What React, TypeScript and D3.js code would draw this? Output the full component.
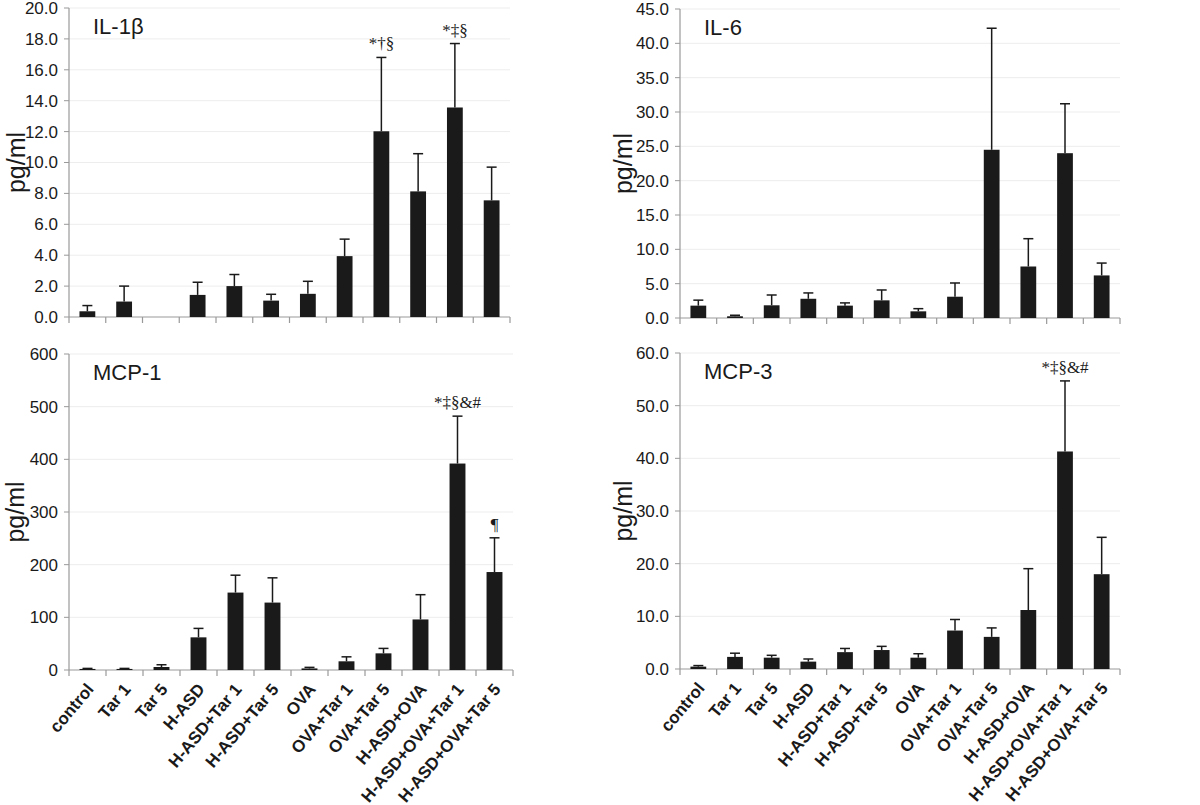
import React from "react";
import * as d3 from "d3";

// groups on the x axis
const groups = [
  "control", "Tar 1", "Tar 5", "H-ASD", "H-ASD+Tar 1", "H-ASD+Tar 5",
  "OVA", "OVA+Tar 1", "OVA+Tar 5", "H-ASD+OVA", "H-ASD+OVA+Tar 1", "H-ASD+OVA+Tar 5",
];

// mean and mean+SE (top of error bar)
const il1bMean = [0.37, 1.0, 0, 1.43, 2.0, 1.06, 1.5, 3.94, 12.02, 8.13, 13.56, 7.55];
const il1bTop = [0.74, 2.0, 0, 2.25, 2.75, 1.47, 2.31, 5.04, 16.8, 10.57, 17.7, 9.7];
const il1bMarks = ["", "", "", "", "", "", "", "", "*†§", "", "*‡§", ""];

const il6Mean = [1.8, 0.25, 1.85, 2.8, 1.8, 2.57, 0.97, 3.1, 24.5, 7.5, 24.0, 6.2];
const il6Top = [2.6, 0.4, 3.35, 3.65, 2.2, 4.08, 1.36, 5.1, 42.2, 11.55, 31.2, 8.0];

const mcp1Mean = [2, 2, 5.7, 62, 147, 128, 3, 16.5, 31.6, 96, 392, 186];
const mcp1Top = [3, 3, 10, 79, 180, 175, 5, 25, 41, 143, 482, 251];
const mcp1Marks = ["", "", "", "", "", "", "", "", "", "", "*‡§&#", "¶"];

const mcp3Mean = [0.45, 2.3, 2.15, 1.4, 3.2, 3.6, 2.15, 7.3, 6.1, 11.2, 41.3, 18.0];
const mcp3Top = [0.65, 3.0, 2.6, 1.9, 3.9, 4.3, 2.9, 9.4, 7.8, 19.05, 54.7, 25.0];
const mcp3Marks = ["", "", "", "", "", "", "", "", "", "", "*‡§&#", ""];

const il1bTicks = d3.range(0, 20.01, 2);
const il6Ticks = d3.range(0, 45.01, 5);
const mcp1Ticks = d3.range(0, 601, 100);
const mcp3Ticks = d3.range(0, 60.01, 10);

const SANS = "'Liberation Sans', Arial, sans-serif";
const SERIF = "'Liberation Serif', 'Times New Roman', serif";
const INK = "#1a1a1a";

type PanelProps = {
  title: string;
  mean: number[];
  top: number[];
  marks?: string[];
  ticks: number[];
  fmt: (v: number) => string;
  x0: number;
  x1: number;
  y0: number;
  y1: number;
  labelX: number;
  showLabels: boolean;
};

function Panel(p: PanelProps) {
  const x = d3.scaleBand().domain(groups).range([p.x0, p.x1]).padding(0);
  const y = d3.scaleLinear().domain([0, d3.max(p.ticks) as number]).range([p.y1, p.y0]);
  const bw = x.bandwidth() * 0.43;
  const edges = groups.map((g) => x(g) as number).concat([p.x1]);

  return (
    <g>
      {p.ticks.map((t) => (
        <g key={t}>
          {t > 0 && (
            <line x1={p.x0} x2={p.x1} y1={y(t)} y2={y(t)} stroke="#ededed" strokeWidth={1} />
          )}
          <line x1={p.x0 - 5} x2={p.x0} y1={y(t)} y2={y(t)} stroke="#999" strokeWidth={1} />
          <text x={p.x0 - 11} y={y(t)} dy="0.35em" textAnchor="end" fontSize={17} fill={INK} fontFamily={SANS}>
            {p.fmt(t)}
          </text>
        </g>
      ))}
      <line x1={p.x0} x2={p.x0} y1={p.y0} y2={p.y1} stroke="#999" strokeWidth={1.2} />
      <line x1={p.x0} x2={p.x1} y1={p.y1} y2={p.y1} stroke="#999" strokeWidth={1.2} />
      {edges.map((ex, i) => (
        <line key={i} x1={ex} x2={ex} y1={p.y1} y2={p.y1 + 6} stroke="#999" strokeWidth={1.2} />
      ))}
      {groups.map((g, i) => {
        const cx = (x(g) as number) + x.bandwidth() / 2;
        const yt = y(p.top[i]);
        return (
          <g key={g}>
            {p.top[i] > p.mean[i] && (
              <g stroke={INK} strokeWidth={1.5}>
                <line x1={cx} x2={cx} y1={y(p.mean[i])} y2={yt} />
                <line x1={cx - 5} x2={cx + 5} y1={yt} y2={yt} />
              </g>
            )}
            {p.mean[i] > 0 && (
              <rect x={cx - bw / 2} y={y(p.mean[i])} width={bw} height={p.y1 - y(p.mean[i])} fill={INK} />
            )}
            {p.marks && p.marks[i] && (
              <text x={cx} y={yt - 8} textAnchor="middle" fontSize={17} fontFamily={SERIF} fill={INK}>
                {p.marks[i]}
              </text>
            )}
            {p.showLabels && (
              <text
                transform={`translate(${cx - 2},${p.y1 + 12}) rotate(-50)`}
                textAnchor="end"
                dy="0.7em"
                fontSize={17}
                fontWeight="bold"
                fontFamily={SANS}
                fill={INK}
              >
                {g}
              </text>
            )}
          </g>
        );
      })}
      <text x={p.x0 + 24} y={p.y0 + 26} fontSize={22} fontFamily={SANS} fill={INK}>
        {p.title}
      </text>
      <text
        transform={`translate(${p.labelX},${(p.y0 + p.y1) / 2}) rotate(-90)`}
        textAnchor="middle"
        dy="0.35em"
        fontSize={25}
        fontFamily={SANS}
        fill={INK}
      >
        pg/ml
      </text>
    </g>
  );
}

export default function App() {
  const f1 = d3.format(".1f");
  const f0 = d3.format("d");
  return (
    <div style={{ position: "absolute", left: 0, top: 0 }}>
      <svg width={1200} height={805} style={{ display: "block", background: "#fff" }}>
        <Panel title="IL-1β" mean={il1bMean} top={il1bTop} marks={il1bMarks} ticks={il1bTicks} fmt={f1}
          x0={69} x1={510} y0={8} y1={317} labelX={16} showLabels={false} />
        <Panel title="IL-6" mean={il6Mean} top={il6Top} ticks={il6Ticks} fmt={f1}
          x0={680} x1={1120} y0={9} y1={318} labelX={623} showLabels={false} />
        <Panel title="MCP-1" mean={mcp1Mean} top={mcp1Top} marks={mcp1Marks} ticks={mcp1Ticks} fmt={f0}
          x0={69} x1={513} y0={354} y1={670} labelX={15} showLabels={true} />
        <Panel title="MCP-3" mean={mcp3Mean} top={mcp3Top} marks={mcp3Marks} ticks={mcp3Ticks} fmt={f1}
          x0={680} x1={1120} y0={353} y1={669} labelX={623} showLabels={true} />
      </svg>
    </div>
  );
}
